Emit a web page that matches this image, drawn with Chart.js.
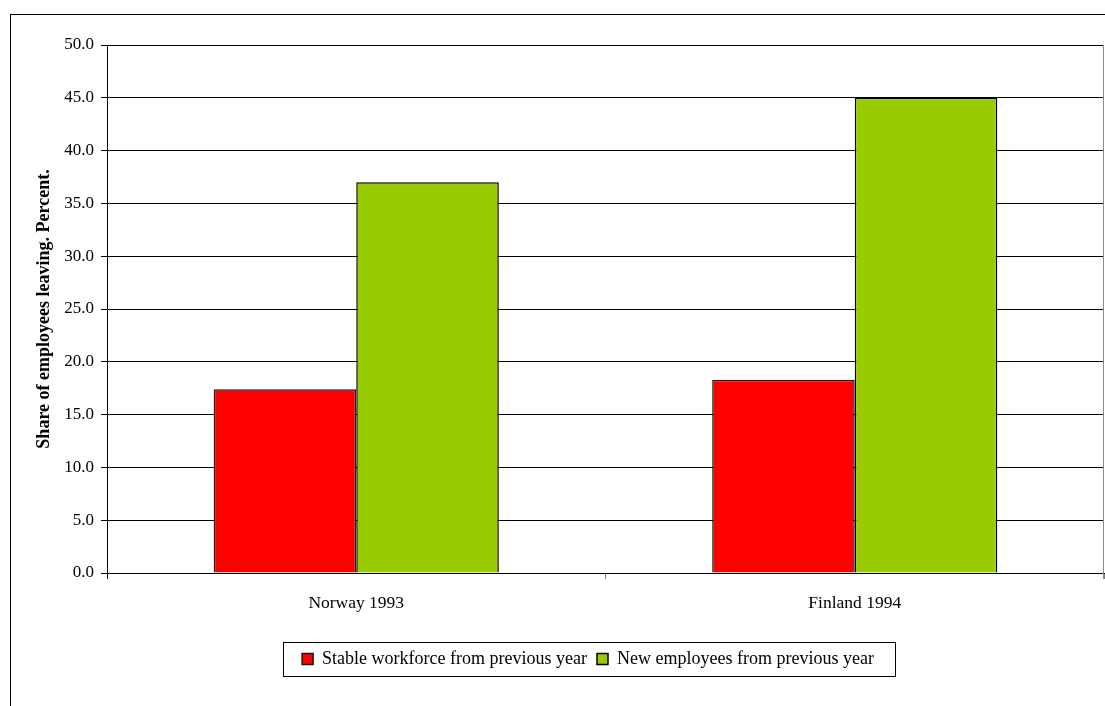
<!DOCTYPE html>
<html>
<head>
<meta charset="utf-8">
<script src="https://cdn.jsdelivr.net/npm/chart.js@4/dist/chart.umd.min.js"></script>
<style>
  html, body { margin: 0; padding: 0; background: #fff; overflow: hidden; }
  #frame { position: absolute; left: 10px; top: 14px; width: 1200px; height: 800px;
           border: 1px solid #000; box-sizing: border-box; }
  #c { position: absolute; left: 0; top: 0; }
</style>
</head>
<body>
<div id="frame"></div>
<canvas id="c" width="1105" height="706"></canvas>
<script>
// Share of employees leaving, by workforce group
const categories = ['Norway 1993', 'Finland 1994'];
const seriesNames = ['Stable workforce from previous year', 'New employees from previous year'];
const stableWorkforce = [17.4, 18.3];
const newEmployees = [37.0, 45.0];
const yTickValues = [0, 5, 10, 15, 20, 25, 30, 35, 40, 45, 50];

Chart.defaults.font.family = '"Liberation Serif", "Times New Roman", serif';
Chart.defaults.color = '#000';

// Legend offset (centred under the full chart frame) plus plot-edge and legend frames
const frameDecor = {
  id: 'frameDecor',
  afterLayout(chart) {
    const lg = chart.legend;
    lg.left += 36;
    lg.right += 36;
  },
  afterDraw(chart) {
    const { ctx, chartArea } = chart;
    ctx.save();
    ctx.lineWidth = 1;
    // right edge of the plot area
    ctx.strokeStyle = '#8c8c8c';
    const xr = Math.round(chartArea.right) - 0.5;
    ctx.beginPath();
    ctx.moveTo(xr, chartArea.top);
    ctx.lineTo(xr, chartArea.bottom + 6);
    ctx.stroke();
    // y axis line continues down through the first category tick
    ctx.strokeStyle = '#000';
    const xl = Math.round(chartArea.left) + 0.5;
    ctx.beginPath();
    ctx.moveTo(xl, chartArea.bottom);
    ctx.lineTo(xl, chartArea.bottom + 6);
    ctx.stroke();
    // box around the legend
    const hb = chart.legend.legendHitBoxes;
    if (hb && hb.length) {
      const first = hb[0], last = hb[hb.length - 1];
      const l = Math.round(first.left - 19) + 0.5;
      const r = Math.round(last.left + last.width + 21) + 0.5;
      const cy = first.top + first.height / 2;
      const t = Math.round(cy - 17) + 0.5;
      const b = Math.round(cy + 17) + 0.5;
      ctx.strokeStyle = '#000';
      ctx.strokeRect(l, t, r - l, b - t);
    }
    ctx.restore();
  }
};

new Chart(document.getElementById('c'), {
  type: 'bar',
  data: {
    labels: categories,
    datasets: [
      {
        label: seriesNames[0],
        data: stableWorkforce,
        backgroundColor: '#ff0000',
        borderColor: '#1a1a1a',
        borderWidth: 1.5,
        inflateAmount: 0
      },
      {
        label: seriesNames[1],
        data: newEmployees,
        backgroundColor: '#99cc00',
        borderColor: '#000000',
        borderWidth: 1.5,
        inflateAmount: 0
      }
    ]
  },
  options: {
    responsive: false,
    animation: false,
    devicePixelRatio: 1,
    layout: { padding: { top: 45, right: 1, bottom: 28, left: 0 } },
    datasets: { bar: { categoryPercentage: 0.572, barPercentage: 1.0 } },
    plugins: {
      legend: {
        position: 'bottom',
        labels: {
          boxWidth: 11,
          boxHeight: 11,
          padding: 10,
          color: '#000',
          font: { size: 18 }
        }
      },
      tooltip: { enabled: false }
    },
    scales: {
      x: {
        afterFit(scale) { scale.height = 67; },
        grid: {
          offset: true,
          drawOnChartArea: false,
          drawTicks: true,
          tickLength: 6,
          color: '#808080'
        },
        border: { color: '#000', width: 1 },
        ticks: { padding: 14, font: { size: 17.5 }, color: '#000' }
      },
      y: {
        min: 0,
        max: 50,
        afterFit(scale) { scale.width = 107; },
        afterBuildTicks(scale) { scale.ticks = yTickValues.map(v => ({ value: v })); },
        grid: { color: '#000', lineWidth: 1, tickLength: 6 },
        border: { color: '#000', width: 1 },
        ticks: {
          padding: 7,
          font: { size: 17 },
          color: '#000',
          callback: v => Number(v).toFixed(1)
        },
        title: {
          display: true,
          text: 'Share of employees leaving. Percent.',
          color: '#000',
          font: { size: 18, weight: 'bold' },
          padding: { top: 34, bottom: 0 }
        }
      }
    }
  },
  plugins: [frameDecor]
});
</script>
</body>
</html>
